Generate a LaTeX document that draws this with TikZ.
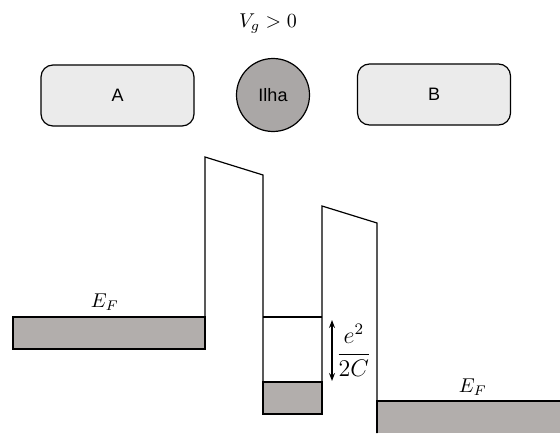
\documentclass[tikz,border=0pt]{standalone}
\usepackage{fontspec}
\setsansfont{Liberation Sans}
\usetikzlibrary{positioning, arrows.meta, calc}
\definecolor{boxgray}{RGB}{235,235,235}
\definecolor{islgray}{RGB}{170,167,166}
\definecolor{bandgray}{RGB}{178,174,172}
\tikzset{
    lead/.style={draw, rounded corners=6pt, fill=boxgray, minimum width=76.5pt, minimum height=30.5pt, font=\sffamily\small},
    island/.style={draw, circle, fill=islgray, minimum size=36.5pt, inner sep=0pt, font=\sffamily\small},
    band/.style={draw, fill=bandgray},
    wall/.style={line width=0.6pt},
    gaparrow/.style={{Stealth[length=1.4mm]}-{Stealth[length=1.4mm]}, line width=0.6pt},
}
\begin{document}
\begin{tikzpicture}[x=0.5pt, y=-0.5pt, line width=0.6pt]
        \useasboundingbox (0,0) rectangle (560,433);
        % Eletrodos e ilha
        \node[lead] (A) at (117.5,95.5) {A};
        \node[island] (ilha) at (273,95) {Ilha};
        \node[lead] (B) at (434,94.5) {B};
        \node (vg) at (268,24) {$V_g > 0$};
        % Bandas preenchidas
        \draw[band] (13,317) rectangle (205,349);
        \draw[band] (263,382) rectangle (322,414);
        \fill[bandgray] (377,401) rectangle (560,433);
        \draw (377,433) -- (377,401) -- (560,401);
        % Barreiras de potencial
        \draw[wall] (205,349) -- (205,157) -- (263,175) -- (263,414);
        \draw[wall] (322,414) -- (322,206) -- (377,223) -- (377,433);
        \draw (263,317) -- (322,317);
        % Rotulos
        \node (efA) at (105,302) {$E_F$};
        \node (efB) at (473,387) {$E_F$};
        \coordinate (gtop) at (332,320);
        \coordinate (gbot) at (332,381);
        \draw[gaparrow] (gtop) -- (gbot);
        \node[right=-1.5pt of $(gtop)!0.5!(gbot)$, font=\large] (carga) {$\displaystyle\frac{e^2}{2C}$};
\end{tikzpicture}
\end{document}
